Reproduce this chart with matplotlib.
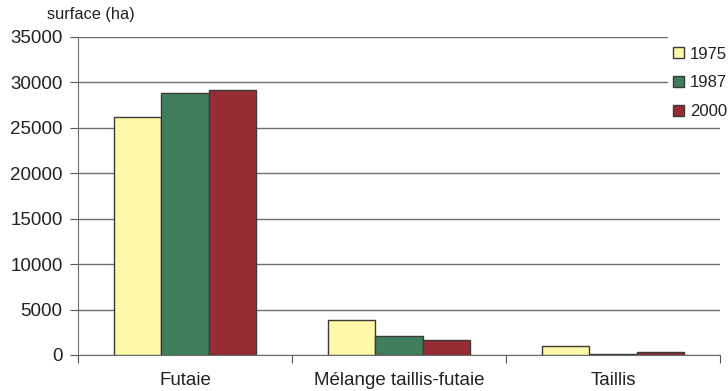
import numpy as np
import matplotlib
matplotlib.use('Agg')
import matplotlib.pyplot as plt
from matplotlib.patches import Rectangle

plt.rcParams['font.family'] = ['Liberation Sans', 'DejaVu Sans']

categories = ['Futaie', 'Mélange taillis-futaie', 'Taillis']
years = ['1975', '1987', '2000']
surf_1975 = [26200, 3800, 950]
surf_1987 = [28800, 2100, 150]
surf_2000 = [29200, 1600, 300]
colors = ['#fff8a8', '#3f7f5c', '#962d35']
txt = '#222222'

fig = plt.figure(figsize=(7.28, 3.91), dpi=100)
ax = fig.add_axes([0.1071, 0.0921, 0.8819, 0.8133])

x = np.arange(len(categories))
w = 0.221
for i, (vals, c, lab) in enumerate(zip([surf_1975, surf_1987, surf_2000], colors, years)):
    ax.bar(x + (i - 1) * w, vals, w, color=c, edgecolor='#3a3a3a', linewidth=1.0,
           label=lab, zorder=3)

ax.set_xlim(-0.5, 2.5)
ax.set_ylim(0, 35000)
ax.set_yticks(np.arange(0, 35001, 5000))
ax.yaxis.grid(True, color='#6e6e6e', linewidth=1.0, zorder=0)
ax.set_axisbelow(True)

# group separators as major ticks, names as minor ticks
ax.set_xticks([-0.5, 0.5, 1.5, 2.5], minor=False)
ax.set_xticklabels([])
ax.set_xticks(x, minor=True)
ax.set_xticklabels(categories, minor=True)
ax.tick_params(axis='x', which='minor', length=0, pad=12, labelsize=13.5, labelcolor=txt)
ax.tick_params(axis='x', which='major', length=6, color='#555555', direction='out')
ax.tick_params(axis='y', length=6, color='#555555', labelsize=13.5, labelcolor=txt, pad=5)

for s in ['top', 'right']:
    ax.spines[s].set_visible(False)
for s in ['left', 'bottom']:
    ax.spines[s].set_color('#6e6e6e')

fig.text(0.0645, 0.962, 'surface (ha)', fontsize=11.8, color=txt, va='center')

# white box behind the legend hides the grid there
ax.add_patch(Rectangle((668 / 728, 1 - 122 / 391), 60 / 728, 92 / 391,
                       transform=fig.transFigure, facecolor='white', edgecolor='none',
                       clip_on=False, zorder=4))

leg = ax.legend(loc='upper right', bbox_to_anchor=(729 / 728, 1 - 45 / 391),
                bbox_transform=fig.transFigure, frameon=False,
                fontsize=12, handlelength=0.66, handleheight=0.66, handletextpad=0.35,
                labelspacing=0.82, borderaxespad=0, borderpad=0.1)
leg.set_zorder(5)
for t in leg.get_texts():
    t.set_color(txt)

fig.savefig('out.png', dpi=100)
